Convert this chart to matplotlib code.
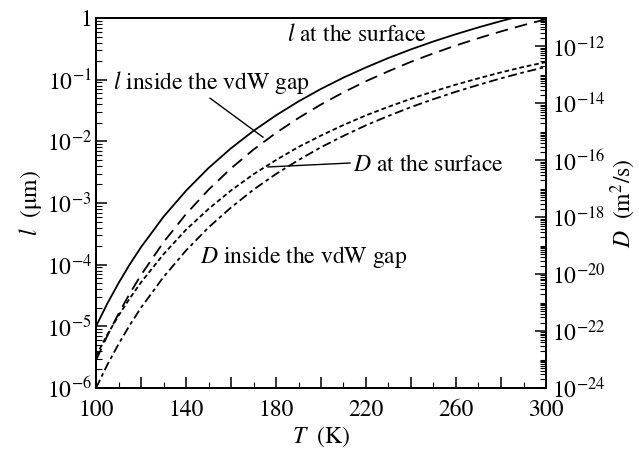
import matplotlib
matplotlib.use("Agg")
import matplotlib.pyplot as plt
from matplotlib.ticker import LogLocator, FixedLocator, FuncFormatter, MultipleLocator, NullFormatter
import numpy as np

plt.rcParams['font.family'] = ['STIXGeneral', 'DejaVu Serif']
plt.rcParams['mathtext.fontset'] = 'stix'

T = [100, 105, 110, 115, 120, 130, 140, 150, 160, 170, 180, 190, 200,
     210, 220, 230, 240, 250, 260, 270, 280, 290, 300]

l_surface = [1.0e-5, 2.33e-5, 5.01e-5, 1.01e-4, 1.92e-4, 5.98e-4, 1.58e-3, 3.69e-3,
             7.72e-3, 1.48e-2, 2.64e-2, 4.44e-2, 7.08e-2, 0.108, 0.158, 0.225,
             0.310, 0.417, 0.547, 0.705, 0.891, 1.11, 1.36]
l_vdw = [2.82e-6, 7.0e-6, 1.60e-5, 3.40e-5, 6.79e-5, 2.31e-4, 6.61e-4, 1.64e-3,
         3.64e-3, 7.35e-3, 1.37e-2, 2.39e-2, 3.96e-2, 6.24e-2, 9.44e-2, 0.137,
         0.195, 0.267, 0.359, 0.471, 0.606, 0.767, 0.955]
D_surface = [1.35e-23, 7.41e-23, 3.47e-22, 1.41e-21, 5.13e-21, 5.01e-20, 3.63e-19,
             1.95e-18, 8.71e-18, 3.24e-17, 1.02e-16, 2.95e-16, 7.41e-16, 1.74e-15,
             3.80e-15, 7.59e-15, 1.45e-14, 2.63e-14, 4.57e-14, 7.59e-14, 1.23e-13,
             1.91e-13, 2.82e-13]
D_vdw = [1.0e-24, 6.46e-24, 3.47e-23, 1.62e-22, 6.61e-22, 7.94e-21, 6.76e-20,
         4.37e-19, 2.19e-18, 9.33e-18, 3.31e-17, 1.02e-16, 2.88e-16, 7.24e-16,
         1.70e-15, 3.63e-15, 7.41e-15, 1.41e-14, 2.57e-14, 4.47e-14, 7.59e-14,
         1.23e-13, 1.91e-13]

x_ticks = [100, 140, 180, 220, 260, 300]
l_ticks = [1e-6, 1e-5, 1e-4, 1e-3, 1e-2, 1e-1, 1]
D_ticks = [1e-24, 1e-22, 1e-20, 1e-18, 1e-16, 1e-14, 1e-12]

fig = plt.figure(figsize=(6.39, 4.54), dpi=100)
ax = fig.add_axes([96/639, 1-388/454, 450/639, 370/454])
ax2 = ax.twinx()

ax.plot(T, l_surface, color='black', lw=1.3, ls='-')
ax.plot(T, l_vdw, color='black', lw=1.3, ls=(0, (7, 4)))
ax2.plot(T, D_surface, color='black', lw=1.3, ls=(0, (2.6, 1.6)))
ax2.plot(T, D_vdw, color='black', lw=1.3, ls=(0, (5, 2, 2, 2)))

ax.set_xlim(100, 300)
ax.set_yscale('log')
ax.set_ylim(1e-6, 1)
ax2.set_yscale('log')
ax2.set_ylim(1e-24, 1e-11)

ax.xaxis.set_major_locator(FixedLocator(list(range(100, 301, 20))))
ax.xaxis.set_minor_locator(MultipleLocator(10))
ax.xaxis.set_major_formatter(FuncFormatter(lambda v, p: f"{int(round(v))}" if int(round(v)) in x_ticks else ""))

def lfmt(v, p):
    e = int(round(np.log10(v)))
    return "1" if e == 0 else r"$10^{%d}$" % e

ax.yaxis.set_major_locator(FixedLocator(l_ticks))
ax.yaxis.set_minor_locator(LogLocator(base=10, subs=np.arange(2, 10), numticks=50))
ax.yaxis.set_major_formatter(FuncFormatter(lfmt))
ax.yaxis.set_minor_formatter(NullFormatter())

ax2.yaxis.set_major_locator(FixedLocator(D_ticks))
ax2.yaxis.set_minor_locator(LogLocator(base=10, subs=np.arange(1, 10), numticks=80))
ax2.yaxis.set_major_formatter(FuncFormatter(lambda v, p: r"$10^{%d}$" % int(round(np.log10(v)))))
ax2.yaxis.set_minor_formatter(NullFormatter())

for a in (ax, ax2):
    a.tick_params(which='major', direction='in', length=8, width=1.1, labelsize=17, pad=3)
    a.tick_params(which='minor', direction='in', length=4, width=0.8)
    for s in a.spines.values():
        s.set_linewidth(1.3)
ax.tick_params(axis='y', right=False)
ax.tick_params(axis='x', top=False, which='both')
ax.tick_params(axis='x', pad=8)
ax2.tick_params(axis='y', pad=4)

ax.set_xlabel(r"$T$  (K)", fontsize=17, labelpad=3)
ax.set_ylabel(r"$l$  ($\mathrm{\mu}$m)", fontsize=17, labelpad=2)
ax2.set_ylabel(r"$D$  (m$^2$/s)", fontsize=17, labelpad=3)

fs = 17
ax2.text(184.9, 0.53, r"$l$ at the surface", transform=ax.transData, fontsize=fs, ha='left', va='center')
ax2.text(107.6, 0.091, r"$l$ inside the vdW gap", transform=ax.transData, fontsize=fs, ha='left', va='center')
ax2.text(214.2, 4.13e-3, r"$D$ at the surface", transform=ax.transData, fontsize=fs, ha='left', va='center')
ax2.text(146.2, 1.33e-4, r"$D$ inside the vdW gap", transform=ax.transData, fontsize=fs, ha='left', va='center')

ax.plot([150.7, 174.2], [0.050, 0.0117], color='black', lw=1.0)
ax.plot([176.4, 212.9], [3.84e-3, 4.45e-3], color='black', lw=1.0)

fig.savefig("out.png", dpi=100)
